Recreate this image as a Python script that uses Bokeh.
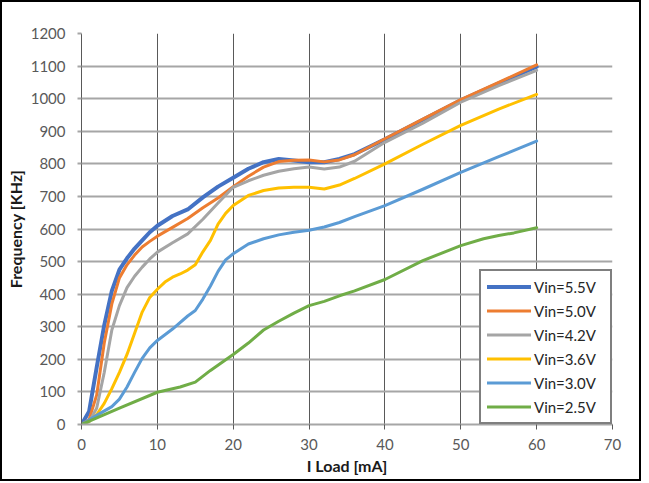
from bokeh.plotting import figure
from bokeh.models import FixedTicker
from bokeh.embed import file_html
from bokeh.resources import INLINE

# ---- data ----
x_ticks = [0, 10, 20, 30, 40, 50, 60, 70]
y_ticks = [0, 100, 200, 300, 400, 500, 600, 700, 800, 900, 1000, 1100, 1200]

x55 = [0, 1, 2, 3, 4, 5, 6, 7, 8, 9, 10, 12, 14, 16, 18, 20, 22, 24, 26, 28, 30, 32, 34, 36, 40, 45, 50, 55, 60]
f55 = [0, 40, 175, 305, 410, 475, 510, 540, 565, 590, 610, 640, 660, 697, 730, 757, 785, 805, 815, 810, 805, 805, 815, 830, 875, 935, 995, 1047, 1098]

x50 = [0, 1, 2, 3, 4, 5, 6, 7, 8, 9, 10, 12, 14, 16, 18, 20, 22, 24, 26, 28, 30, 32, 34, 36, 40, 45, 50, 55, 60]
f50 = [0, 15, 90, 250, 370, 450, 490, 520, 545, 562, 578, 605, 632, 665, 695, 730, 762, 790, 807, 811, 812, 806, 812, 828, 877, 937, 997, 1050, 1104]

x42 = [0, 1, 2, 3, 4, 5, 6, 7, 8, 9, 10, 12, 14, 16, 18, 20, 22, 24, 26, 28, 30, 32, 34, 36, 40, 45, 50, 55, 60]
f42 = [0, 8, 50, 160, 290, 365, 420, 455, 483, 508, 529, 558, 585, 630, 680, 728, 748, 765, 777, 785, 790, 784, 790, 808, 866, 925, 989, 1040, 1087]

x36 = [0, 1, 2, 3, 4, 5, 6, 7, 8, 9, 10, 11, 12, 13, 14, 15, 16, 17, 18, 19, 20, 22, 24, 26, 28, 30, 32, 34, 36, 40, 45, 50, 55, 60]
f36 = [0, 10, 30, 65, 110, 160, 215, 280, 345, 390, 415, 437, 452, 462, 474, 490, 530, 565, 615, 648, 672, 703, 718, 726, 728, 728, 723, 735, 755, 800, 860, 918, 968, 1013]

x30 = [0, 2, 4, 5, 6, 7, 8, 9, 10, 12, 14, 15, 16, 17, 18, 19, 20, 22, 24, 26, 28, 30, 32, 34, 36, 40, 45, 50, 55, 60]
f30 = [0, 28, 55, 78, 115, 160, 203, 235, 258, 293, 333, 350, 385, 425, 470, 505, 524, 554, 570, 582, 590, 596, 606, 620, 638, 672, 722, 774, 822, 870]

x25 = [0, 5, 10, 13, 15, 17, 20, 22, 24, 26, 28, 30, 32, 34, 36, 40, 45, 50, 53, 55, 57, 60]
f25 = [0, 50, 99, 115, 130, 166, 215, 250, 290, 317, 342, 365, 378, 395, 410, 445, 503, 549, 570, 580, 588, 604]

labels = ["Vin=5.5V", "Vin=5.0V", "Vin=4.2V", "Vin=3.6V", "Vin=3.0V", "Vin=2.5V"]
colors = ["#4472C4", "#ED7D31", "#A5A5A5", "#FFC000", "#5B9BD5", "#70AD47"]
widths = [4, 3, 3, 3, 3, 3]
series = [(x55, f55), (x50, f50), (x42, f42), (x36, f36), (x30, f30), (x25, f25)]

p = figure(frame_width=531, frame_height=391, x_range=(0, 70), y_range=(0, 1200),
           output_backend="svg", toolbar_location=None,
           min_border_left=75, min_border_right=27, min_border_top=31, min_border_bottom=55)
p.styles = {"border": "2px solid black"}
p.outline_line_color = None
p.background_fill_color = "white"
p.border_fill_color = "white"

# grids
p.xgrid.ticker = FixedTicker(ticks=x_ticks)
p.ygrid.ticker = FixedTicker(ticks=y_ticks)
p.xgrid.grid_line_color = "#595959"
p.xgrid.grid_line_width = 1
p.ygrid.grid_line_color = "#A6A6A6"
p.ygrid.grid_line_width = 2

# axes
p.xaxis.ticker = FixedTicker(ticks=x_ticks)
p.yaxis.ticker = FixedTicker(ticks=y_ticks)
for ax in (p.xaxis[0], p.yaxis[0]):
    ax.major_label_text_font = "Lato"
    ax.major_label_text_font_size = "15px"
    ax.major_label_text_color = "#595959"
    ax.axis_label_text_font = "Lato"
    ax.axis_label_text_font_size = "16px"
    ax.axis_label_text_font_style = "bold"
    ax.axis_label_text_color = "#1a1a1a"
    ax.minor_tick_line_color = None
    ax.major_tick_in = 0

p.xaxis.axis_label = "I Load [mA]"
p.xaxis.axis_line_color = "#A6A6A6"
p.xaxis.axis_line_width = 2
p.xaxis.major_tick_line_color = "#595959"
p.xaxis.major_tick_out = 5
p.xaxis.major_label_standoff = 9
p.xaxis.axis_label_standoff = 3

p.yaxis.axis_label = "Frequency [KHz]"
p.yaxis.axis_line_color = "#595959"
p.yaxis.major_tick_line_color = "#A6A6A6"
p.yaxis.major_tick_line_width = 2
p.yaxis.major_tick_out = 4
p.yaxis.major_label_standoff = 12
p.yaxis.axis_label_standoff = 3

for (xs, ys), lab, col, w in zip(series, labels, colors, widths):
    p.line(xs, ys, line_color=col, line_width=w, line_cap="round", line_join="round",
           legend_label=lab)

lg = p.legend[0]
lg.location = "bottom_right"
lg.margin = 0
lg.padding = 6
lg.spacing = 5
lg.glyph_width = 44
lg.glyph_height = 19
lg.label_height = 19
lg.label_width = 70
lg.label_standoff = 3
lg.border_line_color = "black"
lg.border_line_width = 2
lg.background_fill_color = "white"
lg.background_fill_alpha = 1
lg.label_text_font = "Lato"
lg.label_text_font_size = "15px"
lg.label_text_color = "#262626"

open("out.html", "w").write(file_html(p, INLINE))
